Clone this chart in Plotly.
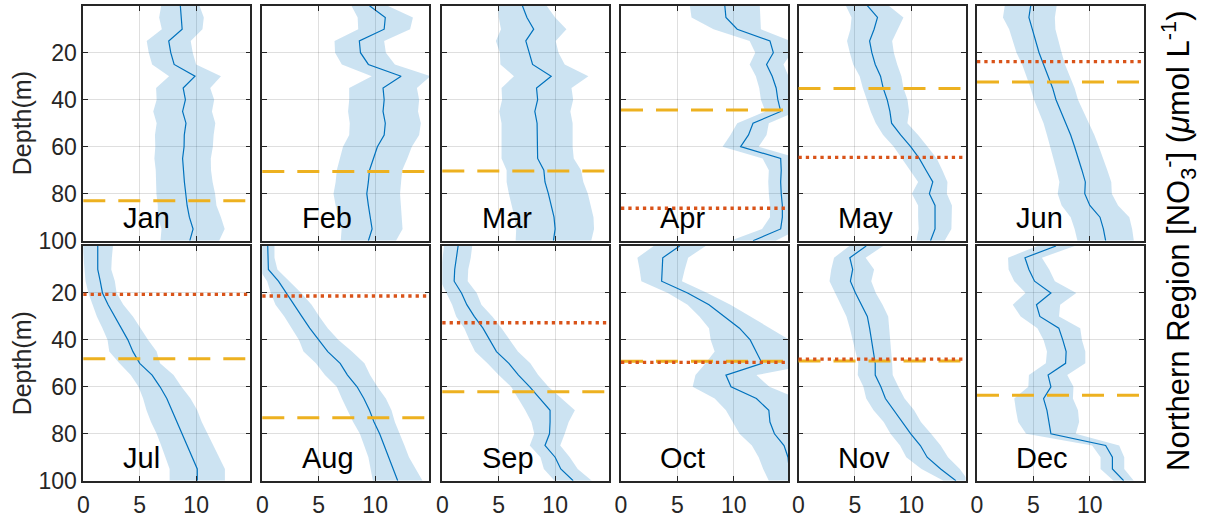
import plotly.graph_objects as go

# Depth levels of the monthly nitrate profiles (m)
depth = list(range(0, 105, 5))
months = ["Jan", "Feb", "Mar", "Apr", "May", "Jun",
          "Jul", "Aug", "Sep", "Oct", "Nov", "Dec"]

# Monthly mean nitrate profiles (umol/L) and their standard deviations
jan_mean = [8.6, 8.7, 8.76, 7.57, 7.75, 8.05, 9.9, 8.85, 9.05, 8.8, 9.1, 8.95, 8.93, 8.8, 8.87, 8.96, 9.08, 9.2, 9.4, 9.73, 9.44]
jan_sd = [1.7, 1.98, 1.8, 1.95, 1.95, 1.95, 2.3, 2.4, 2.55, 2.6, 2.6, 2.6, 2.55, 2.5, 2.45, 2.5, 2.6, 2.6, 2.8, 2.8, 2.6]
feb_mean = [9.5, 10.9, 10.8, 8.6, 8.7, 9.4, 12.3, 10.7, 10.8, 10.7, 10.9, 10.8, 10.2, 9.85, 9.5, 9.4, 9.26, 9.4, 9.55, 9.73, 9.4]
feb_sd = [1.6, 2.45, 2.3, 2.2, 2.25, 2.35, 2.6, 3.0, 3.1, 3.1, 3.15, 3.1, 3.05, 3.0, 2.9, 2.9, 2.95, 2.9, 2.8, 2.7, 2.45]
mar_mean = [7.1, 7.5, 8.1, 7.4, 7.7, 8.0, 9.65, 8.35, 8.45, 8.2, 8.4, 8.4, 8.4, 8.45, 9.0, 9.1, 9.4, 9.65, 9.9, 10.0, 9.85]
mar_sd = [2.15, 2.5, 2.9, 2.65, 2.6, 2.85, 3.3, 3.1, 3.15, 3.15, 3.15, 3.15, 3.15, 3.2, 3.3, 3.4, 3.5, 3.5, 3.5, 3.45, 3.35]
apr_mean = [9.2, 9.3, 10.3, 13.2, 13.5, 12.9, 13.4, 13.75, 13.9, 14.15, 11.7, 11.3, 10.6, 14.15, 14.2, 14.15, 14.2, 14.3, 14.3, 14.15, 11.7]
apr_sd = [3.1, 3.05, 2.1, 1.8, 1.6, 1.5, 1.45, 1.5, 1.5, 1.35, 1.4, 1.6, 1.6, 1.6, 1.1, 1.1, 1.1, 1.1, 1.1, 1.65, 2.0]
may_mean = [6.1, 7.0, 6.7, 6.3, 6.5, 6.8, 7.27, 7.5, 7.86, 8.1, 8.25, 9.05, 9.94, 10.7, 11.3, 11.9, 11.6, 12.1, 12.1, 12.1, 11.7]
may_sd = [1.9, 2.3, 2.1, 2.0, 1.95, 1.95, 1.85, 1.8, 1.8, 1.7, 1.4, 1.55, 1.5, 1.55, 1.45, 1.3, 1.55, 1.5, 1.5, 1.45, 1.25]
jun_mean = [4.76, 4.6, 4.9, 5.2, 5.5, 5.9, 6.3, 6.7, 7.0, 7.45, 7.9, 8.3, 8.65, 9.0, 9.3, 9.6, 9.55, 10.0, 10.9, 11.2, 11.4]
jun_sd = [2.3, 2.3, 2.05, 2.0, 2.0, 1.9, 1.9, 1.95, 1.95, 2.0, 2.0, 2.1, 2.15, 2.2, 2.25, 2.3, 2.4, 2.5, 2.6, 2.55, 2.5]
jul_mean = [1.28, 1.28, 1.28, 1.5, 1.7, 2.2, 2.8, 3.4, 3.95, 4.4, 5.0, 6.1, 6.8, 7.4, 7.85, 8.25, 8.75, 9.2, 9.65, 10.1, 10.1]
jul_sd = [1.35, 1.25, 1.2, 1.3, 1.25, 1.35, 1.6, 1.7, 1.8, 2.1, 1.8, 1.9, 1.9, 2.1, 2.25, 2.25, 2.25, 2.3, 2.4, 2.45, 2.45]
aug_mean = [0.48, 0.48, 0.54, 1.43, 2.1, 2.77, 3.5, 4.2, 5.0, 5.8, 6.9, 7.55, 8.4, 9.0, 9.5, 9.9, 10.4, 10.8, 11.2, 11.6, 12.0]
aug_sd = [0.6, 0.6, 0.8, 1.0, 1.35, 1.6, 1.55, 1.6, 1.75, 2.15, 2.15, 2.0, 1.8, 1.95, 1.95, 1.85, 1.75, 1.8, 1.8, 2.0, 2.2]
sep_mean = [1.4, 1.27, 1.1, 1.05, 1.7, 2.17, 2.83, 3.6, 4.2, 4.8, 5.9, 6.75, 7.75, 8.65, 9.55, 9.55, 9.5, 9.1, 10.0, 10.5, 11.6]
sep_sd = [1.25, 1.25, 1.2, 1.2, 1.35, 1.3, 1.6, 1.65, 1.8, 1.9, 1.9, 1.75, 1.65, 1.9, 2.2, 1.65, 1.35, 1.35, 1.3, 1.5, 1.65]
oct_mean = [5.2, 3.7, 3.65, 3.6, 5.9, 7.8, 9.15, 10.5, 11.45, 12.0, 12.5, 9.3, 9.75, 12.0, 13.1, 13.2, 13.6, 14.45, 14.8, 14.9, 14.9]
oct_sd = [2.3, 2.25, 2.0, 1.8, 1.75, 1.9, 2.2, 2.7, 3.5, 3.7, 5.0, 2.7, 3.4, 3.7, 3.8, 3.3, 3.1, 2.85, 2.6, 2.3, 1.8]
nov_mean = [6.0, 4.55, 4.8, 4.6, 5.05, 5.6, 6.1, 6.3, 6.45, 6.6, 6.8, 6.8, 7.3, 7.7, 8.45, 9.2, 9.95, 10.8, 11.4, 12.6, 13.95]
nov_sd = [1.5, 1.4, 1.9, 1.85, 1.8, 1.85, 1.85, 1.75, 1.65, 1.6, 1.5, 1.55, 1.55, 1.7, 1.8, 1.65, 1.8, 1.8, 1.85, 1.7, 1.1]
dec_mean = [7.0, 4.25, 4.6, 5.1, 6.55, 5.27, 5.57, 7.25, 7.6, 7.9, 7.85, 6.3, 6.55, 5.9, 6.2, 6.35, 6.55, 11.4, 12.0, 12.0, 13.0]
dec_sd = [1.65, 1.5, 1.8, 1.8, 2.25, 2.1, 1.7, 1.9, 1.7, 1.7, 1.75, 1.7, 2.0, 2.6, 2.75, 2.7, 2.2, 1.2, 1.05, 1.05, 0.9]

# Reference depths per month (m): dashed and dotted horizontal markers
dashed_depth = [83.0, 70.5, 70.3, 44.4, 35.2, 32.5, 48.0, 73.2, 62.1, 49.1, 49.0, 63.6]
dotted_depth = [None, None, None, 86.2, 64.5, 23.8, 20.6, 21.3, 32.7, 49.6, 48.2, None]

x_ticks = [0, 5, 10]
y_ticks = [20, 40, 60, 80, 100]

means = [jan_mean, feb_mean, mar_mean, apr_mean, may_mean, jun_mean,
         jul_mean, aug_mean, sep_mean, oct_mean, nov_mean, dec_mean]
sds = [jan_sd, feb_sd, mar_sd, apr_sd, may_sd, jun_sd,
       jul_sd, aug_sd, sep_sd, oct_sd, nov_sd, dec_sd]

W, H = 1205, 518
BLUE = "#0072BD"
BAND = "rgba(0,114,189,0.2)"
ORANGE = "#EDB120"
RED = "#D95319"
AXC = "#262626"
FONT = "Liberation Sans, Arial, Helvetica, sans-serif"

col_left = [83.3, 262.3, 442.3, 621.0, 798.5, 977.0]
panel_w = 167.0
rows_px = [(5.7, 240.7), (246.0, 480.7)]

fig = go.Figure()
layout = dict(
    width=W, height=H,
    margin=dict(l=0, r=0, t=0, b=0, autoexpand=False),
    paper_bgcolor="white", plot_bgcolor="white",
    showlegend=False,
    font=dict(family=FONT, color=AXC, size=23),
)
shapes = []
annotations = []

for i, mon in enumerate(months):
    r, c = divmod(i, 6)
    n = i + 1
    xs = "x" if n == 1 else f"x{n}"
    ys = "y" if n == 1 else f"y{n}"
    mean = means[i]
    sd = sds[i]
    lo = [m - s for m, s in zip(mean, sd)]
    hi = [m + s for m, s in zip(mean, sd)]

    fig.add_trace(go.Scatter(
        x=lo + hi[::-1], y=depth + depth[::-1],
        fill="toself", fillcolor=BAND, mode="lines",
        line=dict(width=0), hoverinfo="skip",
        xaxis=xs, yaxis=ys))
    fig.add_trace(go.Scatter(
        x=mean, y=depth, mode="lines",
        line=dict(color=BLUE, width=1.2),
        xaxis=xs, yaxis=ys))

    shapes.append(dict(
        type="line", xref=f"{xs} domain", yref=ys,
        x0=0, x1=1, y0=dashed_depth[i], y1=dashed_depth[i],
        line=dict(color=ORANGE, width=3, dash="22px,13px"), layer="above"))
    if dotted_depth[i] is not None:
        shapes.append(dict(
            type="line", xref=f"{xs} domain", yref=ys,
            x0=0, x1=1, y0=dotted_depth[i], y1=dotted_depth[i],
            line=dict(color=RED, width=3.3, dash="3.3px,4px"), layer="above"))

    annotations.append(dict(
        x=3.3, y=90.5, xref=xs, yref=ys, text=mon, showarrow=False,
        xanchor="left", yanchor="middle",
        font=dict(family=FONT, size=29, color="black")))

    x0 = col_left[c] / W
    x1 = (col_left[c] + panel_w) / W
    top, bot = rows_px[r]
    y0 = 1 - bot / H
    y1 = 1 - top / H

    axis_common = dict(
        showline=True, linecolor=AXC, linewidth=1.6, mirror="ticks",
        ticks="inside", ticklen=5, tickwidth=1.2, tickcolor=AXC,
        showgrid=True, gridcolor="rgba(38,38,38,0.15)", gridwidth=1,
        zeroline=False, fixedrange=True,
        tickfont=dict(family=FONT, size=23, color=AXC))

    layout["xaxis" if n == 1 else f"xaxis{n}"] = dict(
        axis_common, domain=[x0, x1], anchor=ys, range=[0, 14.8],
        tickmode="array", tickvals=x_ticks,
        showticklabels=(r == 1), ticklabelstandoff=3)
    layout["yaxis" if n == 1 else f"yaxis{n}"] = dict(
        axis_common, domain=[y0, y1], anchor=xs, range=[100, 0],
        tickmode="array", tickvals=y_ticks,
        showticklabels=(c == 0))

for r, (top, bot) in enumerate(rows_px):
    annotations.append(dict(
        x=22 / W, y=1 - (top + bot) / 2 / H, xref="paper", yref="paper",
        text="Depth(m)", showarrow=False, textangle=-90,
        xanchor="center", yanchor="middle",
        font=dict(family=FONT, size=25, color=AXC)))

annotations.append(dict(
    x=1178 / W, y=1 - 241 / H, xref="paper", yref="paper",
    text="Northern Region [NO<sub>3</sub><sup>-</sup>] (<i>μ</i>mol L<sup>-1</sup>)",
    showarrow=False, textangle=-90, xanchor="center", yanchor="middle",
    font=dict(family=FONT, size=31, color="black")))

layout["shapes"] = shapes
layout["annotations"] = annotations
fig.update_layout(**layout)

fig.write_html("out.html")
